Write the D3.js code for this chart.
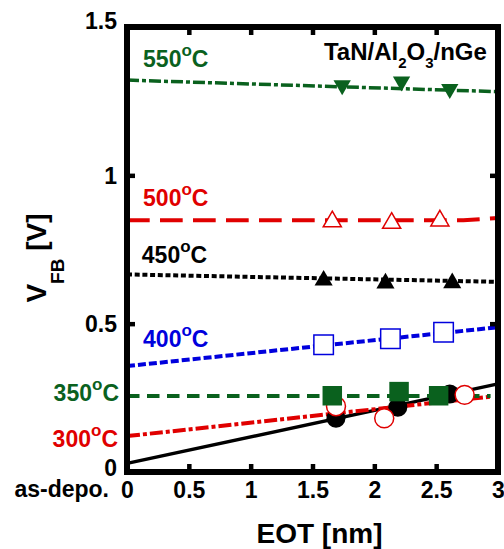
<!DOCTYPE html>
<html>
<head>
<meta charset="utf-8">
<script src="https://cdn.jsdelivr.net/npm/d3@7"></script>
<style>
  html, body { margin: 0; padding: 0; background: #fff; }
  svg { display: block; font-family: "Liberation Sans", Arial, Helvetica, sans-serif; font-weight: bold; }
</style>
</head>
<body>
<svg id="chart" width="504" height="549"></svg>
<script>
// Flat-band voltage vs. EOT of TaN/Al2O3/nGe capacitors for each anneal temperature

// Measured points: EOT [nm] and VFB [V]
const eotAsDepo = [1.69, 2.19, 2.61];
const vfbAsDepo = [0.181, 0.218, 0.263];
const eot300 = [1.69, 2.08, 2.73];
const vfb300 = [0.222, 0.181, 0.260];
const eot350 = [1.66, 2.20, 2.52];
const vfb350 = [0.257, 0.271, 0.257];
const eot400 = [1.59, 2.13, 2.56];
const vfb400 = [0.429, 0.449, 0.471];
const eot450 = [1.59, 2.09, 2.63];
const vfb450 = [0.646, 0.636, 0.637];
const eot500 = [1.66, 2.14, 2.53];
const vfb500 = [0.844, 0.839, 0.847];
const eot550 = [1.74, 2.22, 2.61];
const vfb550 = [1.304, 1.316, 1.291];

// Fitted trend lines, [EOT, VFB] pairs
const fitAsDepo = [[0, 0.029], [3, 0.297]];
const fit300 = [[0, 0.121], [2.94, 0.254]];
const fit350 = [[0, 0.256], [2.94, 0.256]];
const fit400 = [[0, 0.357], [3, 0.488]];
const fit450 = [[0, 0.666], [3, 0.641]];
const fit500 = [[0, 0.849], [2.72, 0.849], [3, 0.856]];
const fit550 = [[0, 1.321], [3, 1.282]];

// Series labels and tick values
const seriesLabels = ["as-depo.", "300", "350", "400", "450", "500", "550"];
const xTickValues = [0, 0.5, 1, 1.5, 2, 2.5, 3];
const yTickValues = [0, 0.5, 1, 1.5];

const GREEN = "#0a611e", RED = "#e00000", BLUE = "#0000dd", BLACK = "#000";

const series = [
  { name: seriesLabels[0], eot: eotAsDepo, vfb: vfbAsDepo, fit: fitAsDepo, color: BLACK, dash: null, width: 3.5, marker: "circle", filled: true },
  { name: seriesLabels[1], eot: eot300, vfb: vfb300, fit: fit300, color: RED, dash: "13,3,4,3", width: 4, marker: "circle", filled: false },
  { name: seriesLabels[2], eot: eot350, vfb: vfb350, fit: fit350, color: GREEN, dash: "12.5,7.5", width: 4, marker: "square", filled: true },
  { name: seriesLabels[3], eot: eot400, vfb: vfb400, fit: fit400, color: BLUE, dash: "8,3", width: 4, marker: "square", filled: false },
  { name: seriesLabels[4], eot: eot450, vfb: vfb450, fit: fit450, color: BLACK, dash: "5,2.7", width: 4, marker: "triangle", filled: true },
  { name: seriesLabels[5], eot: eot500, vfb: vfb500, fit: fit500, color: RED, dash: "22.7,10.3", width: 4, marker: "triangle", filled: false },
  { name: seriesLabels[6], eot: eot550, vfb: vfb550, fit: fit550, color: GREEN, dash: "12,3,4,3", width: 3.5, marker: "triangleDown", filled: true }
];

const svg = d3.select("#chart");
const x = d3.scaleLinear().domain([0, 3]).range([127, 498]);
const y = d3.scaleLinear().domain([0, 1.5]).range([472, 27]);

// Trend lines
const line = d3.line().x(d => x(d[0])).y(d => y(d[1]));
svg.append("g").selectAll("path").data(series).join("path")
  .attr("d", s => line(s.fit))
  .attr("fill", "none")
  .attr("stroke", s => s.color)
  .attr("stroke-width", s => s.width)
  .attr("stroke-dasharray", s => s.dash);

// Markers
const symbolSize = { circle: 283, square: 380, triangle: 142, triangleDown: 130 };
const symbolType = { circle: d3.symbolCircle, square: d3.symbolSquare, triangle: d3.symbolTriangle, triangleDown: d3.symbolTriangle };
series.forEach(s => {
  const pts = s.eot.map((e, i) => [e, s.vfb[i]]);
  svg.append("g").selectAll("path").data(pts).join("path")
    .attr("d", d3.symbol().type(symbolType[s.marker]).size(symbolSize[s.marker]))
    .attr("transform", d => `translate(${x(d[0])},${y(d[1])})` + (s.marker === "triangleDown" ? " rotate(180)" : ""))
    .attr("fill", s.filled ? s.color : "#fff")
    .attr("stroke", s.color)
    .attr("stroke-width", s.filled ? 0 : 1.5);
});

// Inward ticks on all four sides
const tickLen = -8;
const xInner = xTickValues.slice(1, -1);
const yInner = yTickValues.slice(1, -1);
function styleTicks(g) {
  g.select(".domain").remove();
  g.selectAll("line").attr("stroke", BLACK).attr("stroke-width", 4.5);
}
svg.append("g").attr("transform", `translate(0,${y(0)})`)
  .call(d3.axisBottom(x).tickValues(xInner).tickSize(tickLen).tickFormat("")).call(styleTicks);
svg.append("g").attr("transform", `translate(0,${y(1.5)})`)
  .call(d3.axisTop(x).tickValues(xInner).tickSize(tickLen).tickFormat("")).call(styleTicks);
svg.append("g").attr("transform", `translate(${x(0)},0)`)
  .call(d3.axisLeft(y).tickValues(yInner).tickSize(tickLen).tickFormat("")).call(styleTicks);
svg.append("g").attr("transform", `translate(${x(3)},0)`)
  .call(d3.axisRight(y).tickValues(yInner).tickSize(tickLen).tickFormat("")).call(styleTicks);

// Frame
svg.append("rect")
  .attr("x", x(0)).attr("y", y(1.5))
  .attr("width", x(3) - x(0)).attr("height", y(0) - y(1.5))
  .attr("fill", "none").attr("stroke", BLACK).attr("stroke-width", 6);

// Tick labels
const xLab = svg.append("g").attr("transform", `translate(0,${y(0)})`)
  .call(d3.axisBottom(x).tickValues(xTickValues).tickSize(0).tickFormat(d => String(d)));
xLab.select(".domain").remove();
xLab.selectAll("text").attr("dy", null).attr("y", 26)
  .attr("font-size", 23).attr("font-family", null).attr("fill", BLACK);

const yLab = svg.append("g").attr("transform", `translate(${x(0)},0)`)
  .call(d3.axisLeft(y).tickValues(yTickValues).tickSize(0).tickPadding(10).tickFormat(d => String(d)));
yLab.select(".domain").remove();
yLab.selectAll("text")
  .attr("font-size", 23).attr("font-family", null).attr("fill", BLACK)
  .attr("dy", d => d === 1.5 ? "0.08em" : d === 0 ? "0.17em" : "0.35em");

// "as-depo." beside the zero of the EOT axis
svg.append("text")
  .attr("x", x(0) - 18).attr("y", y(0) + 25)
  .attr("text-anchor", "end").attr("font-size", 23)
  .text(seriesLabels[0]);

// Temperature labels with superscript degree
function tempLabel(px, py, num, color, anchor) {
  const t = svg.append("text").attr("x", px).attr("y", py)
    .attr("fill", color).attr("font-size", 23).attr("text-anchor", anchor);
  t.append("tspan").text(num);
  t.append("tspan").attr("font-size", 17).attr("dy", -11).text("o");
  t.append("tspan").attr("dy", 11).text("C");
}
tempLabel(x(0.13), y(1.366), seriesLabels[6], GREEN, "start");
tempLabel(x(0.13), y(0.897), seriesLabels[5], RED, "start");
tempLabel(x(0.12), y(0.705), seriesLabels[4], BLACK, "start");
tempLabel(x(0.13), y(0.422), seriesLabels[3], BLUE, "start");
tempLabel(x(0) - 8, y(0.240), seriesLabels[2], GREEN, "end");
tempLabel(x(0) - 9, y(0.084), seriesLabels[1], RED, "end");

// Stack description
const stack = svg.append("text").attr("x", x(2.91)).attr("y", y(1.388))
  .attr("text-anchor", "end").attr("font-size", 24).attr("fill", BLACK);
stack.append("tspan").text("TaN/Al");
stack.append("tspan").attr("font-size", 15).attr("dy", 8).text("2");
stack.append("tspan").attr("dy", -8).text("O");
stack.append("tspan").attr("font-size", 15).attr("dy", 8).text("3");
stack.append("tspan").attr("dy", -8).text("/nGe");

// Axis titles
svg.append("text")
  .attr("x", (x(0) + x(3)) / 2 + 7).attr("y", 543)
  .attr("text-anchor", "middle").attr("font-size", 28)
  .text("EOT [nm]");

const yt = svg.append("text")
  .attr("transform", "translate(45.5,258) rotate(-90)")
  .attr("text-anchor", "middle").attr("font-size", 28);
yt.append("tspan").text("V");
yt.append("tspan").attr("font-size", 19).attr("dy", 18).text("FB");
yt.append("tspan").attr("dy", -18).text(" [V]");
</script>
</body>
</html>
